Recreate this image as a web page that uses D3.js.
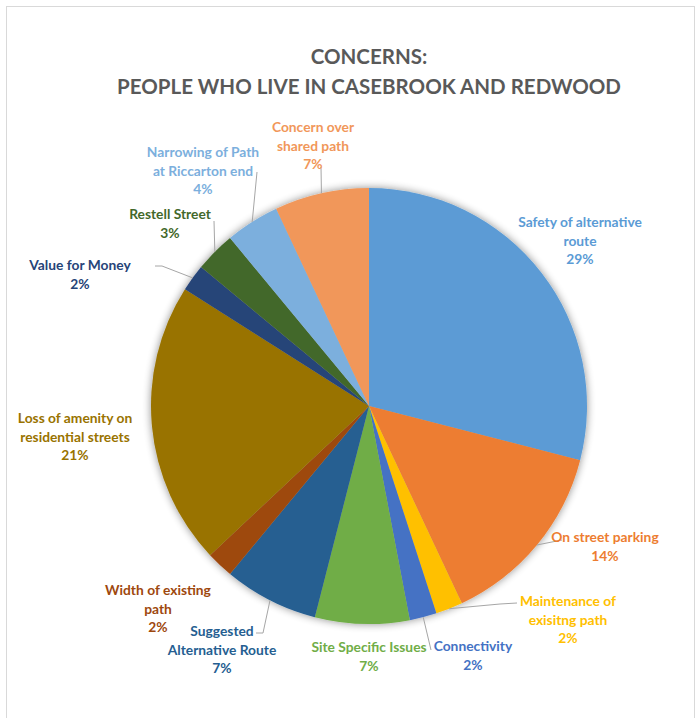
<!DOCTYPE html>
<html>
<head>
<meta charset="utf-8">
<script src="https://cdn.jsdelivr.net/npm/d3@7/dist/d3.min.js"></script>
<style>
  html, body { margin: 0; padding: 0; background: #fff; }
  svg { display: block; }
  text { font-family: Lato, "Open Sans", sans-serif; font-weight: bold; }
</style>
</head>
<body>
<svg id="chart" width="697" height="718"></svg>
<script>
// Concern categories, clockwise from 12 o'clock
const categories = [
  "Safety of alternative route",
  "On street parking",
  "Maintenance of exisitng path",
  "Connectivity",
  "Site Specific Issues",
  "Suggested Alternative Route",
  "Width of existing path",
  "Loss of amenity on residential streets",
  "Value for Money",
  "Restell Street",
  "Narrowing of Path at Riccarton end",
  "Concern over shared path"
];
// Share of responses (%)
const values = [29, 14, 2, 2, 7, 7, 2, 21, 2, 3, 4, 7];
// Label text broken into lines as displayed
const labelLines = [
  ["Safety of alternative", "route"],
  ["On street parking"],
  ["Maintenance of", "exisitng path"],
  ["Connectivity"],
  ["Site Specific Issues"],
  ["Suggested", "Alternative Route"],
  ["Width of existing", "path"],
  ["Loss of amenity on", "residential streets"],
  ["Value for Money"],
  ["Restell Street"],
  ["Narrowing of Path", "at Riccarton end"],
  ["Concern over", "shared path"]
];
const colors = [
  "#5B9BD5", "#ED7D31", "#FFC000", "#4472C4", "#70AD47", "#255E91",
  "#9E480E", "#997300", "#264478", "#43682B", "#7CAFDD", "#F1975A"
];
const titleLines = ["CONCERNS:", "PEOPLE WHO LIVE IN CASEBROOK AND REDWOOD"];

// ---- layout ----
const W = 697, H = 718;
const cx = 369, cy = 406, R = 218;
const lineH = 18.5;
// label block: centre x, first baseline y; leader: points from label side toward the slice
const labelLayout = [
  { x: 580, y: 227, leader: null },
  { x: 605, y: 542, leader: [[562, 540]] },
  { x: 568, y: 606, leader: [[517, 603], [500, 604]] },
  { x: 473, y: 651, leader: [[431, 650]] },
  { x: 369, y: 652, leader: null },
  { x: 222, y: 636, leader: [[256, 633], [263, 633]] },
  { x: 158, y: 595, leader: null },
  { x: 75,  y: 423, leader: null },
  { x: 80,  y: 270, leader: [[155, 266], [162, 266]] },
  { x: 170, y: 219, leader: [[214, 221]] },
  { x: 203, y: 157, leader: [[257, 172]] },
  { x: 313, y: 132, leader: [[321, 167]] }
];

const svg = d3.select("#chart");

// drop shadow for the pie
const defs = svg.append("defs");
const f = defs.append("filter").attr("id", "shadow")
  .attr("x", "-10%").attr("y", "-10%").attr("width", "120%").attr("height", "120%");
f.append("feGaussianBlur").attr("in", "SourceAlpha").attr("stdDeviation", 4).attr("result", "blur");
f.append("feComponentTransfer").attr("in", "blur").attr("result", "soft")
  .append("feFuncA").attr("type", "linear").attr("slope", 0.45);
const merge = f.append("feMerge");
merge.append("feMergeNode").attr("in", "soft");
merge.append("feMergeNode").attr("in", "SourceGraphic");

// chart frame
svg.append("rect")
  .attr("x", 6.5).attr("y", 6.5).attr("width", 688).attr("height", H)
  .attr("fill", "#fff").attr("stroke", "#D9D9D9").attr("stroke-width", 1);

// title
svg.append("g").selectAll("text").data(titleLines).join("text")
  .attr("x", cx).attr("y", (d, i) => 64 + i * 30)
  .attr("text-anchor", "middle")
  .attr("fill", "#595959")
  .attr("font-size", 20.5)
  .text(d => d);

const data = categories.map((c, i) => ({ name: c, value: values[i], i }));
const pie = d3.pie().value(d => d.value).sort(null);
const arcs = pie(data);
const arc = d3.arc().innerRadius(0).outerRadius(R);

const g = svg.append("g").attr("transform", `translate(${cx},${cy})`);
g.append("g").attr("filter", "url(#shadow)")
  .selectAll("path").data(arcs).join("path")
  .attr("d", arc)
  .attr("fill", d => colors[d.data.i]);

// leader lines from the slice edge to each label
const edgePoint = a => {
  const m = (a.startAngle + a.endAngle) / 2;
  return [cx + R * Math.sin(m), cy - R * Math.cos(m)];
};
const line = d3.line();
svg.append("g").selectAll("path")
  .data(arcs.filter(a => labelLayout[a.data.i].leader))
  .join("path")
  .attr("d", a => {
    const pts = labelLayout[a.data.i].leader.slice().reverse();
    return line([edgePoint(a), ...pts]);
  })
  .attr("fill", "none")
  .attr("stroke", "#A6A6A6")
  .attr("stroke-width", 1);

// labels: category lines plus percentage
const labels = svg.append("g").selectAll("text").data(arcs).join("text")
  .attr("text-anchor", "middle")
  .attr("font-size", 13.8)
  .attr("fill", a => colors[a.data.i]);
labels.each(function (a) {
  const L = labelLayout[a.data.i];
  const lines = labelLines[a.data.i].concat([d3.format(".0%")(a.data.value / d3.sum(values))]);
  d3.select(this).selectAll("tspan").data(lines).join("tspan")
    .attr("x", L.x)
    .attr("y", (d, k) => L.y + k * lineH)
    .text(d => d);
});
</script>
</body>
</html>
